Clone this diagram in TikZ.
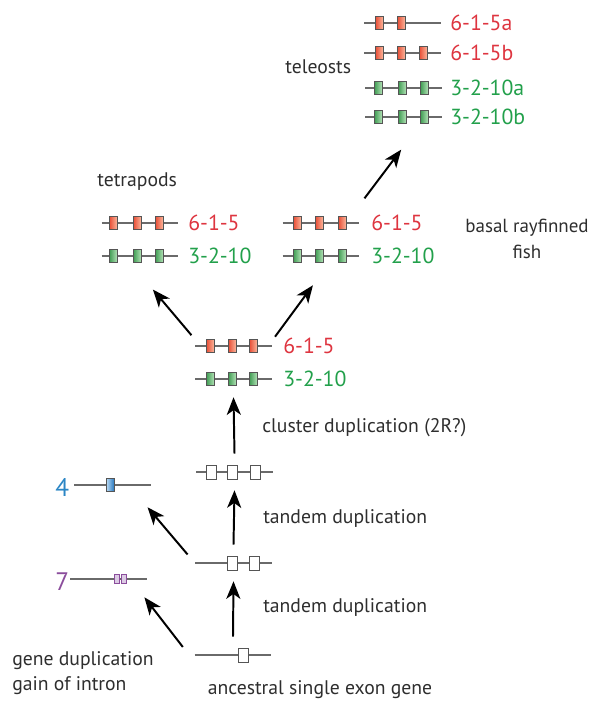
\documentclass[tikz,border=0pt]{standalone}
\usepackage{fontspec}
\setmainfont{PT Sans}
\usetikzlibrary{arrows.meta}

\definecolor{inkgray}{HTML}{2E2E2E}
\definecolor{linegray}{HTML}{6A6A6A}
\definecolor{boxgray}{HTML}{555555}
\definecolor{txtred}{HTML}{DE3540}
\definecolor{txtgreen}{HTML}{22A04B}
\definecolor{txtblue}{HTML}{2B86C5}
\definecolor{txtpurple}{HTML}{8B4D9C}
\definecolor{exred}{HTML}{E84A32}
\definecolor{exredl}{HTML}{F9B49A}
\definecolor{exgreen}{HTML}{3C9A50}
\definecolor{exgreenl}{HTML}{B0E0B4}
\definecolor{exblue}{HTML}{2A7AC0}
\definecolor{exbluel}{HTML}{BFDDF5}
\definecolor{expurple}{HTML}{DCCBE4}

\begin{document}
\begin{tikzpicture}[
    x=0.025cm, y=-0.025cm,
    gene/.style={minimum width=1.92cm, minimum height=0.9cm, inner sep=0,
        path picture={\draw[linegray, line width=0.8pt] (path picture bounding box.west) -- (path picture bounding box.east);}},
    exon/.style={draw=boxgray, line width=0.6pt, inner sep=0},
    plain/.style={exon, fill=white, minimum width=0.25cm, minimum height=0.35cm},
    redex/.style={exon, minimum width=0.2cm, minimum height=0.33cm, left color=exred, right color=exredl},
    greenex/.style={exon, minimum width=0.2cm, minimum height=0.33cm, left color=exgreen, right color=exgreenl},
    blueex/.style={exon, minimum width=0.2cm, minimum height=0.33cm, left color=exbluel, right color=exblue},
    purpleex/.style={exon, draw=txtpurple, fill=expurple, minimum width=0.12cm, minimum height=0.22cm},
    lbl/.style={anchor=west, inner sep=0, text=inkgray, font=\fontsize{14}{16}\selectfont},
    redlbl/.style={lbl, text=txtred, font=\fontsize{15.5}{17}\selectfont},
    greenlbl/.style={lbl, text=txtgreen, font=\fontsize{15.5}{17}\selectfont},
    arrow/.style={-{Stealth[length=12.5pt, width=10pt, inset=3.5pt]}, line width=1.4pt, draw=black}
]
    \useasboundingbox (0,0) rectangle (603,703);

    % Ancestral gene and tandem duplications
    \node[gene] (anc) at (233,655) {};
    \node[plain] (anc-1) at (243,655) {};
    \node[gene] (t2) at (233.5,563) {};
    \foreach \x [count=\i] in {232,254} \node[plain] (t2-\i) at (\x,563) {};
    \node[gene] (t3) at (234.5,472) {};
    \foreach \x [count=\i] in {211,232,255} \node[plain] (t3-\i) at (\x,472) {};

    \node[lbl, anchor=center] (ancl) at (320,690) {ancestral single exon gene};
    \node[lbl] (tand1) at (263,607) {tandem duplication};
    \node[lbl] (tand2) at (263,518) {tandem duplication};
    \node[lbl] (clus) at (262,428) {cluster duplication (2R?)};

    % Cluster after 2R
    \node[gene] (cr) at (233.5,346) {};
    \foreach \x [count=\i] in {210,232,253} \node[redex] (cr-\i) at (\x,346) {};
    \node[gene] (cg) at (233.5,379) {};
    \foreach \x [count=\i] in {210,232,253} \node[greenex] (cg-\i) at (\x,379) {};
    \node[redlbl] (crl) at (283,346) {6-1-5};
    \node[greenlbl] (cgl) at (283,379) {3-2-10};

    % Tetrapods
    \node[lbl] (tetra) at (97,182) {tetrapods};
    \node[gene] (tr) at (140,223) {};
    \foreach \x [count=\i] in {113,137,159} \node[redex] (tr-\i) at (\x,223) {};
    \node[gene] (tg) at (140,256) {};
    \foreach \x [count=\i] in {113,137,159} \node[greenex] (tg-\i) at (\x,256) {};
    \node[redlbl] (trl) at (188,223) {6-1-5};
    \node[greenlbl] (tgl) at (188,256) {3-2-10};

    % Basal rayfinned fish
    \node[gene] (br) at (321,223) {};
    \foreach \x [count=\i] in {297,319,342} \node[redex] (br-\i) at (\x,223) {};
    \node[gene] (bg) at (321,256) {};
    \foreach \x [count=\i] in {297,319,342} \node[greenex] (bg-\i) at (\x,256) {};
    \node[redlbl] (brl) at (371,223) {6-1-5};
    \node[greenlbl] (bgl) at (371,256) {3-2-10};
    \node[lbl, anchor=center, align=center, font=\fontsize{13.5}{18.5}\selectfont] (basal) at (527,239) {basal rayfinned\\fish};

    % Teleosts
    \node[lbl] (tele) at (285,67) {teleosts};
    \node[gene] (tra) at (402.5,23) {};
    \foreach \x [count=\i] in {379,401} \node[redex] (tra-\i) at (\x,23) {};
    \node[gene] (trb) at (402.5,53) {};
    \foreach \x [count=\i] in {379,401,423} \node[redex] (trb-\i) at (\x,53) {};
    \node[gene] (tga) at (403.5,88) {};
    \foreach \x [count=\i] in {378,402,424} \node[greenex] (tga-\i) at (\x,88) {};
    \node[gene] (tgb) at (403.5,117) {};
    \foreach \x [count=\i] in {378,402,424} \node[greenex] (tgb-\i) at (\x,117) {};
    \node[redlbl] (tral) at (450,23) {6-1-5a};
    \node[redlbl] (trbl) at (450,53) {6-1-5b};
    \node[greenlbl] (tgal) at (450,88) {3-2-10a};
    \node[greenlbl] (tgbl) at (450,117) {3-2-10b};

    % Side branches
    \node[gene] (g4) at (112.5,485) {};
    \node[blueex] (g4-1) at (110,485) {};
    \node[lbl, text=txtblue, font=\fontsize{18}{20}\selectfont] (g4l) at (55,487) {4};
    \node[gene] (g7) at (108.5,579) {};
    \foreach \x [count=\i] in {117,124} \node[purpleex] (g7-\i) at (\x,579) {};
    \node[lbl, text=txtpurple, font=\fontsize{18}{20}\selectfont] (g7l) at (55,582) {7};
    \node[lbl, align=left, font=\fontsize{14}{18}\selectfont] (gdup) at (12,673) {gene duplication\\gain of intron};

    % Arrows
    \draw[arrow] (anc.north) -- (t2.south);
    \draw[arrow] (t2.north) -- (t3.south);
    \draw[arrow] (t3.north) -- (cg.south);
    \draw[arrow, shorten <=0.13cm, shorten >=0.5cm] (cr.170) -- (tg.south);
    \draw[arrow, shorten <=0.12cm, shorten >=0.34cm] (cr.8) -- (bg.south);
    \draw[arrow, shorten <=0.2cm, shorten >=0.45cm] (br.north east) -- (tgb.-65);
    \draw[arrow, shorten <=0.28cm, shorten >=0.13cm] (t2.west) -- (g4.-30);
    \draw[arrow, shorten <=0.47cm] (anc.190) -- (g7.-27);
\end{tikzpicture}
\end{document}
